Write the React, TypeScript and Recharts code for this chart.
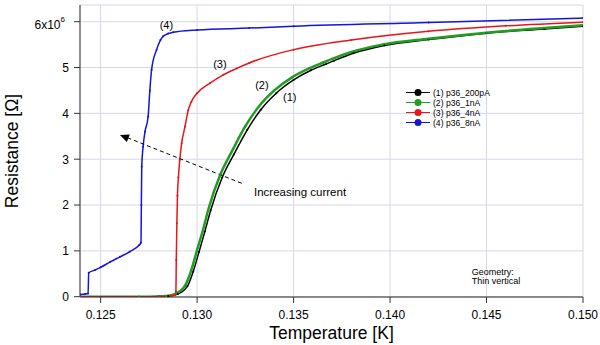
import React from 'react';
import {
  LineChart,
  Line,
  XAxis,
  YAxis,
  CartesianGrid,
  Legend,
  ReferenceDot,
  ReferenceLine,
  Label,
} from 'recharts';

const FONT = '"Liberation Sans", Arial, Helvetica, sans-serif';

// Temperature (K) and resistance (x10^6 Ohm) per curve
const temp1 = [0.12393, 0.127, 0.128, 0.1285, 0.129, 0.1295, 0.1298, 0.1301, 0.1304, 0.1307, 0.1313, 0.1319, 0.1326, 0.1333, 0.1341, 0.135, 0.1359, 0.1367, 0.1371, 0.1381, 0.1397, 0.142, 0.145, 0.148, 0.15];
const res1 = [0, 0, 0.003, 0.015, 0.06, 0.23, 0.55, 0.98, 1.42, 1.88, 2.6, 3.1, 3.64, 4.08, 4.44, 4.73, 4.94, 5.08, 5.15, 5.31, 5.48, 5.61, 5.75, 5.84, 5.9];

const temp2 = [0.12393, 0.127, 0.128, 0.1284, 0.1289, 0.1294, 0.1297, 0.13, 0.1303, 0.1306, 0.1312, 0.1318, 0.1325, 0.1332, 0.134, 0.1349, 0.1358, 0.1366, 0.137, 0.138, 0.1396, 0.142, 0.145, 0.148, 0.15];
const res2 = [0, 0, 0.005, 0.015, 0.07, 0.26, 0.58, 1.02, 1.45, 1.93, 2.66, 3.17, 3.72, 4.15, 4.5, 4.78, 4.98, 5.12, 5.19, 5.34, 5.5, 5.63, 5.76, 5.86, 5.92];

const temp3 = [0.12393, 0.128, 0.12885, 0.1289, 0.12892, 0.12895, 0.12898, 0.12903, 0.1291, 0.1292, 0.12937, 0.12954, 0.1297, 0.13, 0.13067, 0.13136, 0.13205, 0.1327, 0.135, 0.138, 0.142, 0.146, 0.15];
const res3 = [0, 0, 0.03, 0.12, 0.8, 1.6, 2.2, 2.6, 2.98, 3.35, 3.71, 4.07, 4.25, 4.44, 4.66, 4.84, 4.98, 5.1, 5.39, 5.6, 5.79, 5.91, 5.99];

const temp4 = [0.12393, 0.1242, 0.12435, 0.12438, 0.1247, 0.125, 0.1255, 0.126, 0.1265, 0.127, 0.12709, 0.12711, 0.12713, 0.1272, 0.1273, 0.12746, 0.12755, 0.12764, 0.1279, 0.1281, 0.12824, 0.1285, 0.12876, 0.13, 0.1327, 0.135, 0.142, 0.15];
const res4 = [0.05, 0.06, 0.07, 0.52, 0.58, 0.64, 0.76, 0.87, 0.98, 1.13, 1.18, 2.0, 2.84, 3.27, 3.6, 3.93, 4.5, 4.95, 5.39, 5.6, 5.68, 5.74, 5.77, 5.82, 5.86, 5.9, 5.98, 6.08];

const seriesNames = ['(1) p36_200pA', '(2) p36_1nA', '(3) p36_4nA', '(4) p36_8nA'];
const seriesColors = ['#000000', '#1f9e1f', '#e8151b', '#1515d9'];

const xTicks = [0.125, 0.13, 0.135, 0.14, 0.145, 0.15];
const yTicks = [0, 1, 2, 3, 4, 5, 6];

const toPoints = (t: number[], r: number[]) => t.map((x, i) => ({ t: x, r: r[i] }));
const series = [
  toPoints(temp1, res1),
  toPoints(temp2, res2),
  toPoints(temp3, res3),
  toPoints(temp4, res4),
];

// curve labels and notes, in data coordinates
const curveLabels = [
  { text: '(4)', t: 0.12841, r: 5.93 },
  { text: '(3)', t: 0.13118, r: 5.08 },
  { text: '(2)', t: 0.13336, r: 4.62 },
  { text: '(1)', t: 0.1348, r: 4.36 },
];

const YTick = (props: any) => {
  const { x, y, payload } = props;
  if (payload.value === 6) {
    return (
      <text x={x - 4} y={y + 7} textAnchor="end" fontSize={12} fill="#000" fontFamily={FONT}>
        6x10<tspan dy={-7} fontSize={8}>6</tspan>
      </text>
    );
  }
  return (
    <text x={x} y={y} dy="0.36em" textAnchor="end" fontSize={12} fill="#000" fontFamily={FONT}>
      {payload.value}
    </text>
  );
};

const textShape = (text: string, size: number, anchor: string) => (p: any) => (
  <text x={p.cx} y={p.cy} dy="0.35em" textAnchor={anchor} fontSize={size} fill="#000" fontFamily={FONT}>
    {text}
  </text>
);

const arrowHead = (p: any) => {
  const dx = 0.9297;
  const dy = 0.369;
  const bx = p.cx + 9 * dx;
  const by = p.cy + 9 * dy;
  const px = -dy * 4;
  const py = dx * 4;
  return (
    <polygon
      points={`${p.cx},${p.cy} ${bx + px},${by + py} ${bx - px},${by - py}`}
      fill="#000"
    />
  );
};

const renderLegend = () => (
  <svg width={110} height={42} style={{ display: 'block', overflow: 'visible' }}>
    {seriesNames.map((name, i) => {
      const y = 4.5 + i * 10;
      return (
        <g key={name}>
          <line x1={0} y1={y} x2={24} y2={y} stroke={seriesColors[i]} strokeWidth={1} />
          <circle cx={12} cy={y} r={3.5} fill={seriesColors[i]} />
          <text x={27} y={y} dy="0.35em" fontSize={8.6} fill="#000" fontFamily={FONT}>
            {name}
          </text>
        </g>
      );
    })}
  </svg>
);

export default function App() {
  return (
    <div style={{ position: 'absolute', left: 0, top: 0, background: '#fff' }}>
      <LineChart
        width={600}
        height={345}
        margin={{ top: 5, right: 17, left: 0, bottom: 0 }}
        style={{ fontFamily: FONT }}
      >
        <CartesianGrid stroke="#d6d6ee" strokeWidth={1} />
        <XAxis
          type="number"
          dataKey="t"
          domain={[0.12393, 0.15]}
          ticks={xTicks}
          allowDataOverflow
          height={48}
          tickSize={6}
          tickMargin={7}
          tickFormatter={(v: number) => v.toFixed(3)}
          tick={{ fill: '#000', fontSize: 12 }}
          axisLine={{ stroke: '#333' }}
          tickLine={{ stroke: '#333' }}
        >
          <Label
            value="Temperature [K]"
            position="insideBottom"
            offset={6}
            style={{ fontSize: 17.5, fill: '#000', fontFamily: FONT }}
          />
        </XAxis>
        <YAxis
          type="number"
          dataKey="r"
          domain={[-0.0065, 6.364]}
          ticks={yTicks}
          allowDataOverflow
          width={80}
          tickSize={6}
          tickMargin={5}
          tick={<YTick />}
          axisLine={{ stroke: '#333' }}
          tickLine={{ stroke: '#333' }}
        >
          <Label
            content={(props: any) => {
              const vb = props.viewBox || { x: 0, y: 5, height: 292 };
              const cx = vb.x + 12;
              const cy = vb.y + vb.height / 2;
              return (
                <text
                  x={cx}
                  y={cy}
                  transform={`rotate(-90, ${cx}, ${cy})`}
                  textAnchor="middle"
                  dominantBaseline="central"
                  fontSize={17.5}
                  fill="#000"
                  fontFamily={FONT}
                >
                  Resistance [Ω]
                </text>
              );
            }}
          />
        </YAxis>
        <Legend
          layout="vertical"
          align="center"
          verticalAlign="middle"
          content={renderLegend}
          wrapperStyle={{ left: 406, top: 88, width: 120 }}
        />
        {series.map((data, i) => (
          <Line
            key={seriesNames[i]}
            data={data}
            dataKey="r"
            name={seriesNames[i]}
            type="monotone"
            stroke={seriesColors[i]}
            strokeWidth={i === 1 ? 2.5 : 1.5}
            dot={{ r: 1, fill: seriesColors[i], stroke: 'none' }}
            isAnimationActive={false}
          />
        ))}
        <ReferenceLine
          segment={[
            { x: 0.13231, y: 2.474 },
            { x: 0.1262, y: 3.5 },
          ]}
          stroke="#000"
          strokeWidth={1}
          strokeDasharray="4 3"
        />
        <ReferenceDot x={0.126} y={3.528} r={0} shape={arrowHead} />
        {curveLabels.map((l) => (
          <ReferenceDot key={l.text} x={l.t} y={l.r} r={0} shape={textShape(l.text, 11, 'middle')} />
        ))}
        <ReferenceDot x={0.13295} y={2.29} r={0} shape={textShape('Increasing current', 11.5, 'start')} />
        <ReferenceDot x={0.14423} y={0.545} r={0} shape={textShape('Geometry:', 9, 'start')} />
        <ReferenceDot x={0.14423} y={0.343} r={0} shape={textShape('Thin vertical', 9, 'start')} />
      </LineChart>
    </div>
  );
}
